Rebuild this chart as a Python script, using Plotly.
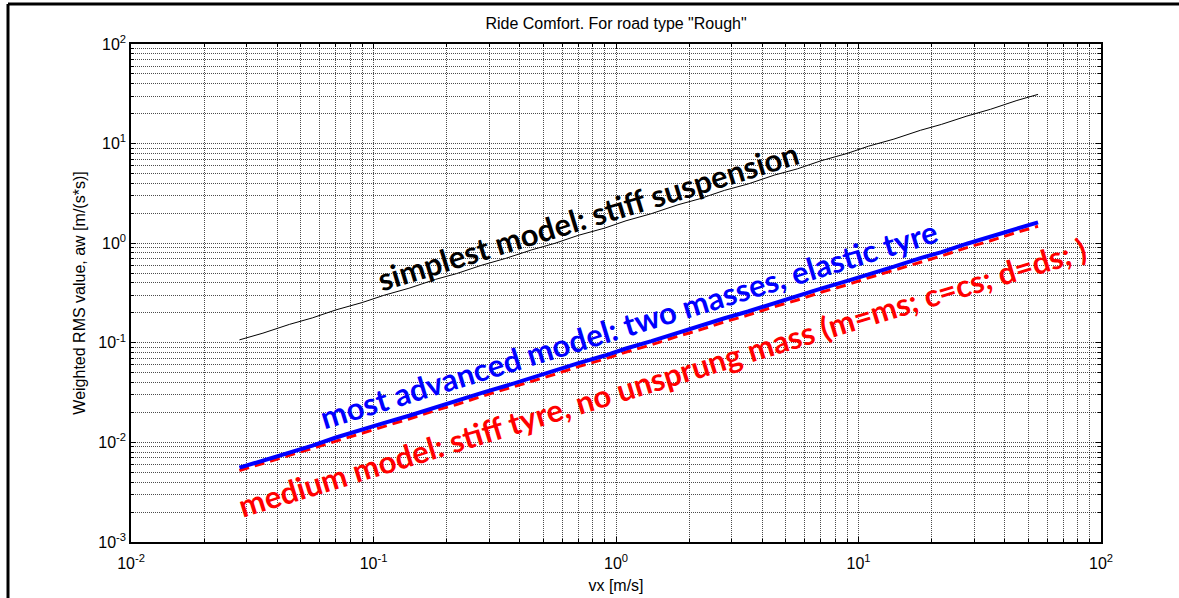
import plotly.graph_objects as go

vx = [0.028, 0.035, 0.045, 0.056, 0.07, 0.09, 0.11, 0.14, 0.18, 0.22, 0.28, 0.35, 0.45, 0.56,
      0.7, 0.9, 1.1, 1.4, 1.8, 2.2, 2.8, 3.5, 4.5, 5.6, 7, 9, 11, 14, 18, 22, 28, 35, 45, 55]
aw_simplest = [0.107, 0.125, 0.153, 0.178, 0.214, 0.254, 0.299, 0.353, 0.433, 0.495, 0.602, 0.703,
               0.858, 0.998, 1.20, 1.42, 1.68, 1.98, 2.43, 2.78, 3.39, 3.93, 4.83, 5.58, 6.72, 7.98,
               9.42, 11.1, 13.6, 15.6, 18.9, 22.1, 27.1, 31.2]
aw_advanced = [0.00557, 0.00655, 0.00798, 0.00930, 0.0112, 0.0133, 0.0156, 0.0185, 0.0226, 0.0259,
               0.0314, 0.0368, 0.0448, 0.0522, 0.0625, 0.0745, 0.0876, 0.1038, 0.1266, 0.1455,
               0.1765, 0.2062, 0.2515, 0.2930, 0.3505, 0.4180, 0.4910, 0.582, 0.709, 0.815, 0.988,
               1.158, 1.412, 1.62]
aw_medium = [0.00522, 0.00615, 0.00745, 0.00868, 0.01040, 0.01235, 0.01445, 0.01720, 0.02095,
             0.02400, 0.02910, 0.03410, 0.04140, 0.04830, 0.05770, 0.06880, 0.08080, 0.09560,
             0.1165, 0.1340, 0.1622, 0.1895, 0.2310, 0.2690, 0.3215, 0.3830, 0.4495, 0.533, 0.648,
             0.745, 0.902, 1.057, 1.288, 1.478]

x_exps = [-2, -1, 0, 1, 2]
y_exps = [-3, -2, -1, 0, 1, 2]

title_text = 'Ride Comfort. For road type "Rough"'
xlabel = "vx [m/s]"
ylabel = "Weighted RMS value, aw [m/(s*s)]"
label_simplest = "simplest model: stiff suspension"
label_advanced = "most advanced model: two masses, elastic tyre"
label_medium = "medium model: stiff tyre, no unsprung mass (m=ms; c=cs; d=ds; )"

AX_FONT = "Liberation Sans, Arial, sans-serif"
ANN_FONT = "Lato, Carlito, Calibri, sans-serif"

def minor_vals(exps):
    vals = []
    for e in exps[:-1]:
        for m in range(2, 10):
            vals.append(m * 10 ** e)
    return vals

fig = go.Figure()
fig.add_trace(go.Scatter(x=vx, y=aw_simplest, mode="lines",
                         line=dict(color="black", width=1), showlegend=False))
fig.add_trace(go.Scatter(x=vx, y=aw_medium, mode="lines",
                         line=dict(color="#ff0000", width=3, dash="10px,6px"), showlegend=False))
fig.add_trace(go.Scatter(x=vx, y=aw_advanced, mode="lines",
                         line=dict(color="#0000ff", width=4), showlegend=False))

grid_common = dict(gridcolor="rgba(0,0,0,0.7)", griddash="1px,1px", gridwidth=1)

fig.update_xaxes(
    type="log", range=[-2, 2], automargin=False,
    tickmode="array", tickvals=[10 ** e for e in x_exps],
    ticktext=[f"10<sup>{e}</sup>" for e in x_exps],
    ticks="inside", ticklen=5, tickcolor="black", tickwidth=1,
    showline=True, linecolor="black", linewidth=1.5, mirror="allticks",
    showgrid=True, zeroline=False, ticklabelstandoff=6,
    minor=dict(tickmode="array", tickvals=minor_vals(x_exps), ticks="inside", ticklen=3,
               tickcolor="black", showgrid=True, **grid_common),
    tickfont=dict(family=AX_FONT, size=16, color="black"),
    title=dict(text=xlabel, font=dict(family=AX_FONT, size=16, color="black"), standoff=9),
    **grid_common,
)
fig.update_yaxes(
    type="log", range=[-3, 2], automargin=False,
    tickmode="array", tickvals=[10 ** e for e in y_exps],
    ticktext=[f"10<sup>{e}</sup>" for e in y_exps],
    ticks="inside", ticklen=5, tickcolor="black", tickwidth=1,
    showline=True, linecolor="black", linewidth=1.5, mirror="allticks",
    showgrid=True, zeroline=False,
    minor=dict(tickmode="array", tickvals=minor_vals(y_exps), ticks="inside", ticklen=3,
               tickcolor="black", showgrid=True, **grid_common),
    tickfont=dict(family=AX_FONT, size=16, color="black"),
    title=dict(text=ylabel, font=dict(family=AX_FONT, size=16, color="black"), standoff=9),
    **grid_common,
)

def ann(text, x, y, color):
    return dict(text=text, x=x, y=y, xref="paper", yref="paper", showarrow=False,
                textangle=-17, xanchor="center", yanchor="middle",
                font=dict(family=ANN_FONT, size=31, color=color, weight="bold"))

fig.update_layout(
    width=1179, height=598,
    margin=dict(l=131, r=78, t=44, b=56),
    paper_bgcolor="white", plot_bgcolor="white",
    title=dict(text=title_text, x=0.5, xref="paper", xanchor="center",
               y=1 - 23 / 598, yanchor="middle",
               font=dict(family=AX_FONT, size=16, color="black")),
    annotations=[
        ann(label_simplest, 0.4712, 0.6546, "black"),
        ann(label_advanced, 0.5130, 0.4378, "#0000ff"),
        ann(label_medium, 0.5480, 0.3313, "#ff0000"),
    ],
    shapes=[
        dict(type="line", xref="paper", yref="paper", x0=-0.1268, x1=-0.1268,
             y0=-0.2, y1=1.0803, line=dict(color="black", width=3)),
        dict(type="line", xref="paper", yref="paper", x0=-0.1268, x1=1.2,
             y0=1.0803, y1=1.0803, line=dict(color="black", width=3)),
    ],
)

fig.write_html("out.html", config={"displayModeBar": False},
               post_script="document.body.style.margin='0';document.body.style.overflow='hidden';")
